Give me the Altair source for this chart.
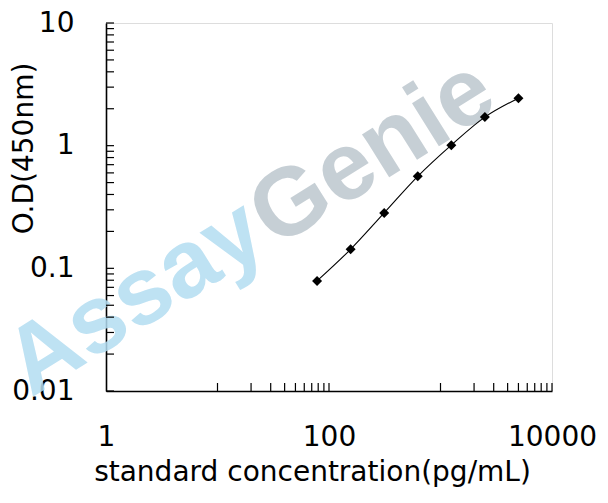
import altair as alt
import pandas as pd

# data
conc = [78.125, 156.25, 312.5, 625, 1250, 2500, 5000]
od = [0.079, 0.143, 0.283, 0.562, 1.01, 1.71, 2.44]

x_major = [1, 100, 10000]
y_major = [0.01, 0.1, 1, 10]
x_minor = [10, 20, 30, 40, 50, 60, 70, 80, 90, 100,
           1000, 2000, 3000, 4000, 5000, 6000, 7000, 8000, 9000, 10000]
y_minor = [0.01, 0.02, 0.03, 0.04, 0.05, 0.06, 0.07, 0.08, 0.09,
           0.1, 0.2, 0.3, 0.4, 0.5, 0.6, 0.7, 0.8, 0.9,
           1, 2, 3, 4, 5, 6, 7, 8, 9, 10]

wm_words = ["Assay", "Genie"]
wm_colors = ["#b3ddf2", "#bdc7ce"]

W, H = 446, 368
FONT = "DejaVu Sans"

df = pd.DataFrame({"conc": conc, "od": od})
xt = pd.DataFrame({"t": x_minor})
yt = pd.DataFrame({"t": y_minor})

xscale = alt.Scale(type="log", domain=[1, 10000], nice=False)
yscale = alt.Scale(type="log", domain=[0.01, 10], nice=False)

xaxis = alt.Axis(values=x_major, format="d", ticks=False, grid=False,
                 domainColor="black", domainWidth=1.6,
                 labelFont=FONT, labelFontSize=28, labelColor="black",
                 labelPadding=32, labelFlush=False, labelOverlap=False,
                 title="standard concentration(pg/mL)", titleFont=FONT,
                 titleFontSize=28, titleFontWeight="normal", titleColor="black",
                 titleX=206, titleY=81, titleAlign="center", titleBaseline="middle")
yaxis = alt.Axis(values=y_major, format="~g", ticks=False, grid=False,
                 domainColor="black", domainWidth=1.6,
                 labelFont=FONT, labelFontSize=28, labelColor="black",
                 labelPadding=32, labelFlush=False, labelOverlap=False,
                 title="O.D(450nm)", titleFont=FONT, titleFontSize=28,
                 titleFontWeight="normal", titleColor="black",
                 titleX=-82, titleY=125, titleAngle=270,
                 titleAlign="center", titleBaseline="middle")

base = alt.Chart(df)

wm1 = alt.Chart(pd.DataFrame({"w": [wm_words[0]]})).mark_text(
    font="Liberation Sans", fontWeight="bold", fontSize=96, angle=328,
    color=wm_colors[0], opacity=0.85, align="center", baseline="alphabetic"
).encode(text="w:N", x=alt.value(45), y=alt.value(300))
wm2 = alt.Chart(pd.DataFrame({"w": [wm_words[1]]})).mark_text(
    font="Liberation Sans", fontWeight="bold", fontSize=96, angle=328,
    color=wm_colors[1], opacity=0.85, align="center", baseline="alphabetic"
).encode(text="w:N", x=alt.value(282), y=alt.value(155))

line = base.mark_line(color="black", strokeWidth=1.1, interpolate="catmull-rom").encode(
    x=alt.X("conc:Q", scale=xscale, axis=xaxis),
    y=alt.Y("od:Q", scale=yscale, axis=yaxis),
)
pts = base.mark_point(shape="diamond", filled=True, color="black", size=100, opacity=1).encode(
    x=alt.X("conc:Q", scale=xscale),
    y=alt.Y("od:Q", scale=yscale),
)

xticks = alt.Chart(xt).mark_rule(color="black", strokeWidth=1.2).encode(
    x=alt.X("t:Q", scale=xscale), y=alt.value(H - 8), y2=alt.value(H)
)
yticks = alt.Chart(yt).mark_rule(color="black", strokeWidth=1.2).encode(
    y=alt.Y("t:Q", scale=yscale), x=alt.value(0), x2=alt.value(8)
)

chart = alt.layer(wm1, wm2, xticks, yticks, line, pts).properties(
    width=W, height=H,
    autosize=alt.AutoSizeParams(type="none"),
    padding={"left": 98, "top": 15, "right": 48, "bottom": 100},
).configure_view(stroke=None).configure(background="white")

chart.save("out.html", embed_options={"renderer": "svg", "actions": False})
